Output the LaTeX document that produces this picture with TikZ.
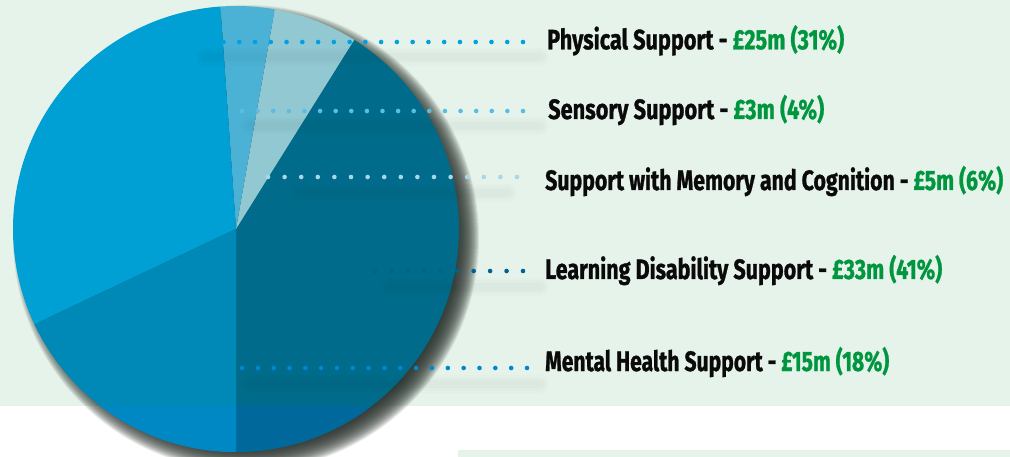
\documentclass[tikz,border=0pt]{standalone}
\usepackage{fontspec}
\setmainfont{Fira Sans}[BoldFeatures={FakeBold=1.2}]
\usepackage{graphicx}
\usetikzlibrary{calc}
\definecolor{bg}{HTML}{E6F3EA}
\definecolor{shcol}{HTML}{2B332E}
\definecolor{cphys}{HTML}{009FD4}
\definecolor{csens}{HTML}{4BB2D5}
\definecolor{cmem}{HTML}{92C8D2}
\definecolor{cld}{HTML}{006B8B}
\definecolor{cmh}{HTML}{0089B7}
\definecolor{cldb}{HTML}{00689A}
\definecolor{cmhb}{HTML}{0088C5}
\definecolor{dphys}{HTML}{00A0E2}
\definecolor{dsens}{HTML}{5DBCE6}
\definecolor{dmem}{HTML}{ABD6E8}
\definecolor{dld}{HTML}{00628F}
\definecolor{dmh}{HTML}{0088CC}
\definecolor{grn}{HTML}{00963F}
\definecolor{txt}{HTML}{0A0A0A}
\newcommand\fitw[2]{\resizebox{#1pt}{\height}{#2}}
\newcommand\dotrow[4]{%
  \pgfmathtruncatemacro\nm{#3-1}%
  \foreach \i in {0,...,\nm}{%
    \pgfmathsetmacro\tt{\i/\nm}%
    \fill[#4] ($(#1)!\tt!(#2)$) circle[radius=2.3pt];}}
\newcommand\strip[2]{%
  \foreach \w/\o in {18/0.012,13/0.015,8/0.02}{%
    \draw[line width=\w pt, line cap=round, shcol, opacity=\o] (#1) -- (#2);}}
\tikzset{lbl/.style={inner sep=0pt, anchor=base west, font=\fontsize{28}{30}\selectfont\bfseries, text=txt}}
\begin{document}
\begin{tikzpicture}[x=1pt,y=-1pt]
\useasboundingbox (0,0) rectangle (1010,457);
\fill[white] (0,0) rectangle (1010,457);
\fill[bg] (0,0) rectangle (1010,406);
\fill[bg] (458,450) rectangle (1010,457);

% pie shadow
\coordinate (C) at (236,229);
\coordinate (CS) at (246,238);
\foreach \k in {0,...,24}{%
  \pgfmathsetmacro\rr{233-\k}%
  \fill[shcol,opacity=0.1] (CS) circle[radius=\rr pt];}

% pie slices
\newcommand\slice[3]{\fill[#1] (C) -- ++(#2:223pt) arc[start angle=#2, end angle=#3, radius=223pt] -- cycle;}
\slice{cld}{-90}{58}
\slice{cmem}{58}{80}
\slice{csens}{80}{94}
\slice{cphys}{94}{205.3}
\slice{cmh}{205.3}{270}
\begin{scope}
  \clip (0,406) rectangle (1010,457);
  \slice{cldb}{-90}{58}
  \slice{cmhb}{205.3}{270}
\end{scope}

% faint shadows under the dotted lines
\strip{205,57}{540,57}
\strip{250,126}{540,126}
\strip{300,193}{508,193}
\strip{390,287}{540,287}
\strip{250,384}{540,384}

% dotted leader lines
\coordinate (ps) at (192,42);  \coordinate (pe) at (523,42);
\coordinate (ss) at (242,111); \coordinate (se) at (523,111);
\coordinate (ms) at (268,177); \coordinate (me) at (517,177);
\coordinate (ls) at (375,271); \coordinate (le) at (523,271);
\coordinate (hs) at (242,368); \coordinate (he) at (527,368);
\dotrow{ps}{pe}{22}{dphys}
\dotrow{ss}{se}{19}{dsens}
\dotrow{ms}{me}{16}{dmem}
\dotrow{ls}{le}{10}{dld}
\dotrow{hs}{he}{19}{dmh}

% labels
\node[lbl] (phys) at (547,49.3) {\fitw{297}{Physical Support - \textcolor{grn}{£25m (31\%)}}};
\node[lbl] (sens) at (548,119) {\fitw{276}{Sensory Support - \textcolor{grn}{£3m (4\%)}}};
\node[lbl] (mem) at (545,190) {\fitw{458}{Support with Memory and Cognition - \textcolor{grn}{£5m (6\%)}}};
\node[lbl] (ld) at (545,279) {\fitw{397}{Learning Disability Support - \textcolor{grn}{£33m (41\%)}}};
\node[lbl] (mh) at (545,371) {\fitw{344}{Mental Health Support - \textcolor{grn}{£15m (18\%)}}};
\end{tikzpicture}
\end{document}
